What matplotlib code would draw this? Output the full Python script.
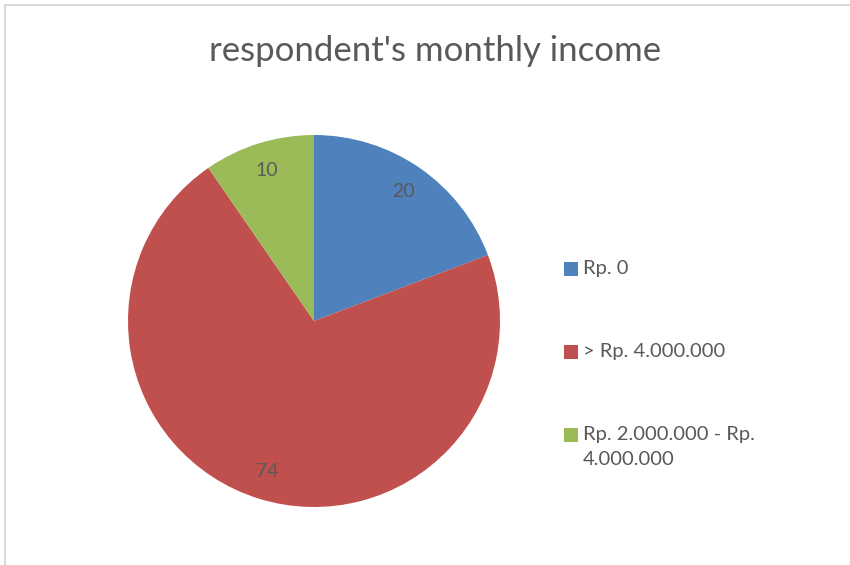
import textwrap
import matplotlib
matplotlib.use("Agg")
import matplotlib.pyplot as plt
from matplotlib.patches import Rectangle
from matplotlib.lines import Line2D

## Data
categories = ["Rp. 0", "> Rp. 4.000.000", "Rp. 2.000.000 - Rp. 4.000.000"]
counts = [20, 74, 10]
colors = ["#4F81BD", "#C0504D", "#9BBB59"]
title = "respondent's monthly income"

plt.rcParams['font.family'] = ['Lato', 'DejaVu Sans']
txt = "#595959"
W, H = 850, 565

fig = plt.figure(figsize=(W/100, H/100), dpi=100)

# pie centre (314, 321) px, radius 186 px
ax = fig.add_axes([(314-186)/W, (H-321-186)/H, 372/W, 372/H])
wedges, texts, autotexts = ax.pie(counts, colors=colors, startangle=90, counterclock=False,
                                  autopct=lambda p: "%d" % round(p*sum(counts)/100),
                                  pctdistance=0.845, radius=1,
                                  textprops=dict(color=txt, fontsize=14))
ax.set_xlim(-1, 1)
ax.set_ylim(-1, 1)
ax.set_aspect("equal")

fig.text(435/W, 1-51/H, title, ha="center", va="center", fontsize=25, color=txt)

## Legend drawn by hand so the square sits on the first line
rows = [269, 352, 435]
for lab, col, y in zip(categories, colors, rows):
    fig.patches.append(Rectangle((564/W, 1-(y+7)/H), 14/W, 14/H, transform=fig.transFigure,
                                 facecolor=col, edgecolor="none"))
    fig.text(583/W, 1-(y-9)/H, "\n".join(textwrap.wrap(lab, 20)), ha="left", va="top",
             fontsize=14.5, color=txt, linespacing=1.6)

## Chart border (top and left visible)
fig.add_artist(Line2D([5/W, 1], [1-5/H, 1-5/H], color="#D9D9D9", lw=1.5))
fig.add_artist(Line2D([5/W, 5/W], [0, 1-5/H], color="#D9D9D9", lw=1.5))

fig.savefig("out.png", dpi=100, facecolor="white")
